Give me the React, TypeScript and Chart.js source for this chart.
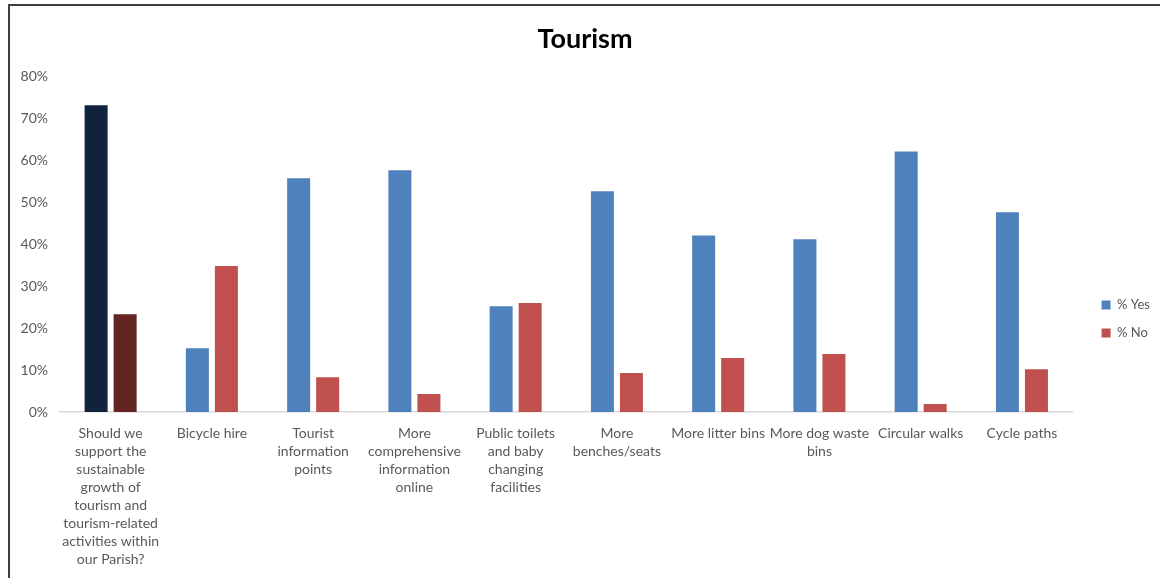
import React, { useEffect, useRef } from "react";
import { Chart, registerables } from "chart.js";

Chart.register(...registerables);

const categories: string[][] = [
  ["Should we", "support the", "sustainable", "growth of", "tourism and", "tourism-related", "activities within", "our Parish?"],
  ["Bicycle hire"],
  ["Tourist", "information", "points"],
  ["More", "comprehensive", "information", "online"],
  ["Public toilets", "and baby", "changing", "facilities"],
  ["More", "benches/seats"],
  ["More litter bins"],
  ["More dog waste", "bins"],
  ["Circular walks"],
  ["Cycle paths"],
];

const yesValues = [73.1, 15.2, 55.7, 57.6, 25.2, 52.6, 42.1, 41.2, 62.1, 47.6];
const noValues = [23.3, 34.8, 8.3, 4.3, 26.0, 9.3, 12.9, 13.8, 1.9, 10.2];

const seriesNames = ["% Yes", "% No"];
const yTickValues = [0, 10, 20, 30, 40, 50, 60, 70, 80];

const YES_COLOR = "#4F81BD";
const NO_COLOR = "#C0504D";
const YES_HIGHLIGHT = "#11233C";
const NO_HIGHLIGHT = "#632423";
const highlightIndex = 0;
const seriesColors = [YES_COLOR, NO_COLOR];

const TEXT_GRAY = "#595959";
const FONT = "Lato, 'Open Sans', sans-serif";

export default function App() {
  const canvasRef = useRef<HTMLCanvasElement | null>(null);

  useEffect(() => {
    const canvas = canvasRef.current;
    if (!canvas) return;
    const chart = new Chart(canvas, {
      type: "bar",
      data: {
        labels: categories,
        datasets: [
          {
            label: seriesNames[0],
            data: yesValues,
            backgroundColor: (c: any) =>
              c.type === "data" && c.dataIndex === highlightIndex ? YES_HIGHLIGHT : YES_COLOR,
            borderWidth: 0,
            categoryPercentage: 0.573,
            barPercentage: 0.793,
          },
          {
            label: seriesNames[1],
            data: noValues,
            backgroundColor: (c: any) =>
              c.type === "data" && c.dataIndex === highlightIndex ? NO_HIGHLIGHT : NO_COLOR,
            borderWidth: 0,
            categoryPercentage: 0.573,
            barPercentage: 0.793,
          },
        ],
      },
      options: {
        animation: false,
        responsive: false,
        maintainAspectRatio: false,
        layout: { padding: 0 },
        plugins: {
          title: {
            display: true,
            text: "Tourism",
            color: "#000000",
            font: { family: FONT, size: 27, weight: "bold", lineHeight: 1.2 },
            padding: { top: 17, bottom: 21 },
          },
          legend: {
            display: true,
            position: "right",
            align: "center",
            labels: {
              boxWidth: 9,
              boxHeight: 9,
              padding: 15,
              color: TEXT_GRAY,
              font: { family: FONT, size: 13 },
              generateLabels: (ch: any) => {
                const items = Chart.defaults.plugins.legend.labels.generateLabels(ch);
                return items.map((it: any, i: number) => ({
                  ...it,
                  fillStyle: seriesColors[i],
                  strokeStyle: seriesColors[i],
                  lineWidth: 0,
                }));
              },
            },
          },
          tooltip: { enabled: false },
        },
        scales: {
          x: {
            type: "category",
            grid: { display: false },
            border: { display: true, color: "#D9D9D9", width: 1.5 },
            ticks: {
              color: TEXT_GRAY,
              font: { family: FONT, size: 14, lineHeight: 18 / 14 },
              padding: 4,
              maxRotation: 0,
              minRotation: 0,
              autoSkip: false,
            },
            afterFit: (s: any) => {
              s.height = 220;
            },
          },
          y: {
            type: "linear",
            min: 0,
            max: 80,
            grid: { display: false },
            border: { display: false },
            afterBuildTicks: (s: any) => {
              s.ticks = yTickValues.map((v) => ({ value: v }));
            },
            ticks: {
              color: TEXT_GRAY,
              font: { family: FONT, size: 14 },
              padding: 4,
              callback: (v: any) => `${v}%`,
            },
            afterFit: (s: any) => {
              s.width = 50;
            },
          },
          yGap: {
            type: "linear",
            position: "right",
            display: true,
            grid: { display: false },
            border: { display: false },
            ticks: { display: false },
            afterFit: (s: any) => {
              s.width = 14;
            },
          },
        },
      },
    } as any);
    return () => chart.destroy();
  }, []);

  return (
    <div
      style={{
        position: "fixed",
        left: 8,
        top: 4,
        width: 1152,
        height: 574,
        overflow: "hidden",
        background: "#ffffff",
      }}
    >
      <div
        style={{
          borderTop: "2px solid #3f3f3f",
          borderLeft: "2px solid #3f3f3f",
          width: 1170,
          height: 640,
          boxSizing: "border-box",
          background: "#ffffff",
        }}
      >
        <canvas ref={canvasRef} width={1150} height={626} style={{ display: "block", width: 1150, height: 626 }} />
      </div>
    </div>
  );
}
